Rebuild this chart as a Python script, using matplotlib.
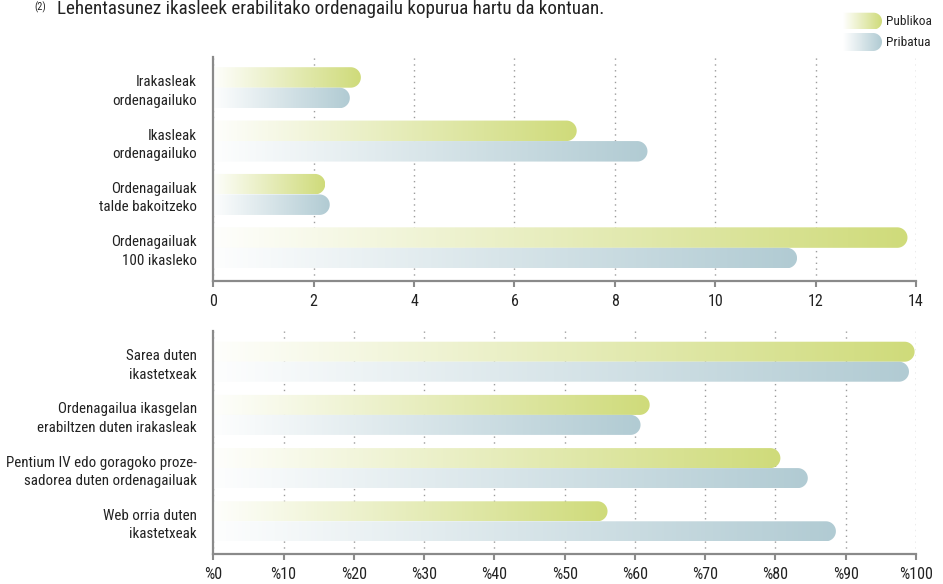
import numpy as np
import matplotlib
matplotlib.use('Agg')
import matplotlib.pyplot as plt
from matplotlib.path import Path
from matplotlib.patches import PathPatch
from matplotlib.colors import to_rgb
from matplotlib import font_manager as fm

# ---------------- data ----------------
top_categories = ['Irakasleak\nordenagailuko', 'Ikasleak\nordenagailuko',
                  'Ordenagailuak\ntalde bakoitzeko', 'Ordenagailuak\n100 ikasleko']
top_publikoa = [2.94, 7.24, 2.23, 13.83]
top_pribatua = [2.72, 8.65, 2.32, 11.63]
top_ticks = [0, 2, 4, 6, 8, 10, 12, 14]
top_ticklabels = ['0', '2', '4', '6', '8', '10', '12', '14']

bottom_categories = ['Sarea duten\nikastetxeak',
                     'Ordenagailua ikasgelan\nerabiltzen duten irakasleak',
                     'Pentium IV edo goragoko proze-\nsadorea duten ordenagailuak',
                     'Web orria duten\nikastetxeak']
bottom_publikoa = [99.8, 62.1, 80.7, 56.1]
bottom_pribatua = [99.0, 60.8, 84.6, 88.6]
bottom_ticks = [0, 10, 20, 30, 40, 50, 60, 70, 80, 90, 100]
bottom_ticklabels = ['%0', '%10', '%20', '%30', '%40', '%50', '%60', '%70', '%80', '%90', '%100']

series_names = ['Publikoa', 'Pribatua']
series_colors = ['#cfdb7a', '#b1cbd3']
note_text = 'Lehentasunez ikasleek erabilitako ordenagailu kopurua hartu da kontuan.'

# ---------------- font ----------------
def pick_font():
    for fam in ['Liberation Sans Narrow', 'Roboto Condensed', 'Open Sans Condensed']:
        try:
            fm.findfont(fm.FontProperties(family=fam), fallback_to_default=False)
            return fam, 'normal'
        except Exception:
            pass
    p = fm.findfont(fm.FontProperties(family='DejaVu Sans', stretch='condensed'))
    if 'Condensed' in p:
        return 'DejaVu Sans', 'condensed'
    return 'Roboto', 'normal'

FAM, STRETCH = pick_font()
plt.rcParams['font.family'] = [FAM, 'DejaVu Sans']
plt.rcParams['font.stretch'] = STRETCH

TXT = '#222222'
SPINE = '#8a8a8a'
GRID = '#9c9c9c'

W, H = 943, 584
fig = plt.figure(figsize=(W / 100, H / 100), dpi=100)


def gradient_pill(ax, x0, x1, ya, yb, color, start=0.02):
    """Horizontal white->color gradient clipped to a pill with round right end."""
    p0 = ax.transData.transform((0, 0))
    p1 = ax.transData.transform((1, 1))
    sx = abs(p1[0] - p0[0])
    sy = abs(p1[1] - p0[1])
    ry = abs(yb - ya) / 2
    rx = ry * sy / sx
    cy = (ya + yb) / 2
    cx = x1 - rx
    th = np.linspace(-np.pi / 2, np.pi / 2, 60)
    arc = np.column_stack([cx + rx * np.cos(th), cy + ry * np.sin(th)])
    verts = np.vstack([[x0, cy - ry], arc, [x0, cy + ry], [x0, cy - ry]])
    codes = [Path.MOVETO] + [Path.LINETO] * (len(verts) - 2) + [Path.CLOSEPOLY]
    patch = PathPatch(Path(verts, codes), facecolor='none', edgecolor='none',
                      transform=ax.transData)
    ax.add_patch(patch)
    t = np.linspace(start, 1, 256)[:, None]
    c = np.array(to_rgb(color))[None, :]
    arr = (1 - t) * np.ones((1, 3)) + t * c
    im = ax.imshow(arr[None, :, :], extent=[x0, x1, cy + ry, cy - ry], aspect='auto',
                   interpolation='bilinear', zorder=3)
    im.set_clip_path(patch)


def panel(rect, cats, pub, pri, ticks, ticklabels, ylim, barh):
    ax = fig.add_axes(rect)
    xmax = ticks[-1]
    ax.set_xlim(0, xmax)
    ax.set_ylim(*ylim)
    y = np.arange(len(cats))
    for i in range(len(cats)):
        gradient_pill(ax, 0, pub[i], y[i] - barh, y[i], series_colors[0])
        gradient_pill(ax, 0, pri[i], y[i], y[i] + barh, series_colors[1])
    ax.set_xlim(0, xmax)
    ax.set_ylim(*ylim)
    ax.set_xticks(ticks)
    ax.set_xticklabels(ticklabels)
    ax.set_yticks(y)
    ax.set_yticklabels(cats, fontsize=10.8, color=TXT, linespacing=1.4)
    ax.tick_params(axis='y', length=0, pad=12)
    ax.tick_params(axis='x', direction='out', length=4.5, width=1.5, color=SPINE,
                   labelsize=11.5, labelcolor=TXT, pad=5)
    for s in ['top', 'right']:
        ax.spines[s].set_visible(False)
    for s in ['left', 'bottom']:
        ax.spines[s].set_color(SPINE)
        ax.spines[s].set_linewidth(1.6)
        ax.spines[s].set_zorder(5)
    ax.grid(axis='x', color=GRID, linestyle=(0, (1, 3.2)), linewidth=1.0, zorder=1)
    ax.set_axisbelow(True)
    ax.patch.set_alpha(0)
    return ax


left = 213.3 / W
width = (916 - 213.3) / W
ax1 = panel([left, (H - 280.7) / H, width, (280.7 - 57) / H],
            top_categories, top_publikoa, top_pribatua, top_ticks, top_ticklabels,
            (3.616, -0.575), 0.384)
ax2 = panel([left, (H - 554) / H, width, (554 - 330.7) / H],
            bottom_categories, bottom_publikoa, bottom_pribatua, bottom_ticks,
            bottom_ticklabels, (3.615, -0.583), 0.376)

# ---------------- overlay: note + legend ----------------
ov = fig.add_axes([0, 0, 1, 1], zorder=10)
ov.set_xlim(0, W)
ov.set_ylim(H, 0)
ov.axis('off')
ov.patch.set_alpha(0)

ov.text(34, 1.0, '(2)', fontsize=7.5, color=TXT, ha='left', va='top')
ov.text(57, 14.0, note_text, fontsize=13.7, color=TXT, ha='left', va='baseline')

leg_y = [(12.7, 29.5), (33.0, 51.0)]
for (ya, yb), name, col in zip(leg_y, series_names, series_colors):
    gradient_pill(ov, 843, 882, ya, yb, col, start=0.0)
    ov.text(886, (ya + yb) / 2 + 0.5, name, fontsize=9.6, color=TXT, ha='left', va='center')
ov.set_xlim(0, W)
ov.set_ylim(H, 0)

fig.savefig('out.png', dpi=100)
